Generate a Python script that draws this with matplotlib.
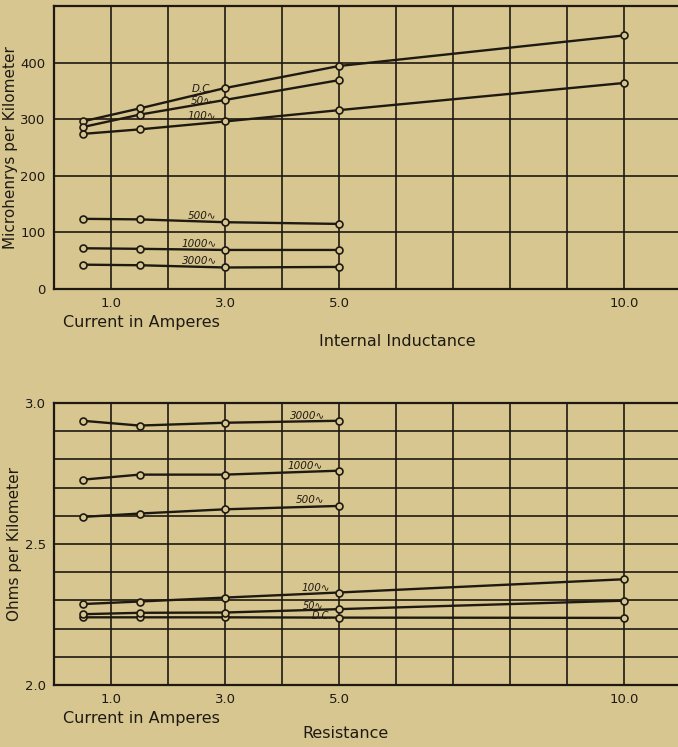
import matplotlib.pyplot as plt
import numpy as np

# current in amperes at which the readings were taken
current = [0.5, 1.5, 3.0, 5.0, 10.0]

# internal inductance, microhenrys per km
ind_dc = [296, 319, 355, 394, 448]
ind_50 = [286, 308, 334, 369]
ind_100 = [274, 282, 296, 316, 364]
ind_500 = [124, 123, 118, 115]
ind_1000 = [72, 71, 69, 69]
ind_3000 = [43, 42, 38, 39]

# resistance, ohms per km
res_dc = [2.240, 2.240, 2.240, 2.239, 2.238]
res_50 = [2.251, 2.256, 2.257, 2.269, 2.299]
res_100 = [2.287, 2.296, 2.310, 2.328, 2.375]
res_500 = [2.596, 2.608, 2.623, 2.635]
res_1000 = [2.728, 2.746, 2.746, 2.760]
res_3000 = [2.937, 2.920, 2.930, 2.937]

x_labels = {1: "1.0", 3: "3.0", 5: "5.0", 10: "10.0"}
ind_ylabels = {0: "0", 100: "100", 200: "200", 300: "300", 400: "400"}
res_ylabels = {2.0: "2.0", 2.5: "2.5", 3.0: "3.0"}

BG = "#d8c690"
INK = "#1e1a12"

plt.rcParams['font.family'] = ['DejaVu Sans']
fig = plt.figure(figsize=(6.78, 7.47), dpi=100)
fig.patch.set_facecolor(BG)

W, H = 678.0, 747.0


def make_axes(top_px, bottom_px):
    ax = fig.add_axes([54 / W, (H - bottom_px) / H, 627 / W, (bottom_px - top_px) / H])
    ax.set_facecolor(BG)
    ax.set_xlim(0, 11)
    ax.set_xticks(range(0, 12))
    ax.set_xticklabels([x_labels.get(i, "") for i in range(0, 12)])
    ax.tick_params(length=0, labelsize=9.5, colors=INK, pad=6)
    ax.grid(True, color=INK, linewidth=1.2)
    ax.set_axisbelow(True)
    for s in ax.spines.values():
        s.set_color(INK)
        s.set_linewidth(1.6)
    return ax


def curve(ax, y):
    ax.plot(current[:len(y)], y, color=INK, linewidth=1.7, marker='o',
            markersize=5, markerfacecolor=BG, markeredgecolor=INK,
            markeredgewidth=1.2, zorder=3)


# ---- internal inductance ----
ax1 = make_axes(6, 289)
ax1.set_ylim(0, 500)
ax1.set_yticks(range(0, 501, 100))
ax1.set_yticklabels([ind_ylabels.get(v, "") for v in range(0, 501, 100)])
for y in [ind_dc, ind_50, ind_100, ind_500, ind_1000, ind_3000]:
    curve(ax1, y)
lab = dict(fontsize=7.5, style='italic', color=INK, ha='center', va='bottom')
ax1.text(2.6, 345, "D.C.", **lab)
ax1.text(2.6, 323, "50\u223f", **lab)
ax1.text(2.6, 297, "100\u223f", **lab)
ax1.text(2.6, 120, "500\u223f", **lab)
ax1.text(2.55, 70, "1000\u223f", **lab)
ax1.text(2.55, 40, "3000\u223f", **lab)
ax1.set_ylabel("Microhenrys per Kilometer", fontsize=11, color=INK, labelpad=2)
fig.text(63 / W, 1 - 322 / H, "Current in Amperes", fontsize=11.5, color=INK,
         ha='left', va='center')
fig.text(397 / W, 1 - 341 / H, "Internal Inductance", fontsize=11.5, color=INK,
         ha='center', va='center')

# ---- resistance ----
ax2 = make_axes(403, 685)
ax2.set_ylim(2.0, 3.0)
yt = np.round(np.arange(2.0, 3.01, 0.1), 1)
ax2.set_yticks(yt)
ax2.set_yticklabels([res_ylabels.get(float(v), "") for v in yt])
for y in [res_dc, res_50, res_100, res_500, res_1000, res_3000]:
    curve(ax2, y)
ax2.text(4.45, 2.935, "3000\u223f", **lab)
ax2.text(4.4, 2.760, "1000\u223f", **lab)
ax2.text(4.5, 2.637, "500\u223f", **lab)
ax2.text(4.6, 2.327, "100\u223f", **lab)
ax2.text(4.55, 2.263, "50\u223f", fontsize=7, style='italic', color=INK,
         ha='center', va='bottom')
ax2.text(4.7, 2.245, "D.C.", fontsize=7, style='italic', color=INK,
         ha='center', va='center')
ax2.set_ylabel("Ohms per Kilometer", fontsize=11, color=INK, labelpad=2)
fig.text(63 / W, 1 - 718 / H, "Current in Amperes", fontsize=11.5, color=INK,
         ha='left', va='center')
fig.text(345 / W, 1 - 734 / H, "Resistance", fontsize=11.5, color=INK,
         ha='center', va='center')

fig.savefig("out.png", dpi=100, facecolor=BG)
